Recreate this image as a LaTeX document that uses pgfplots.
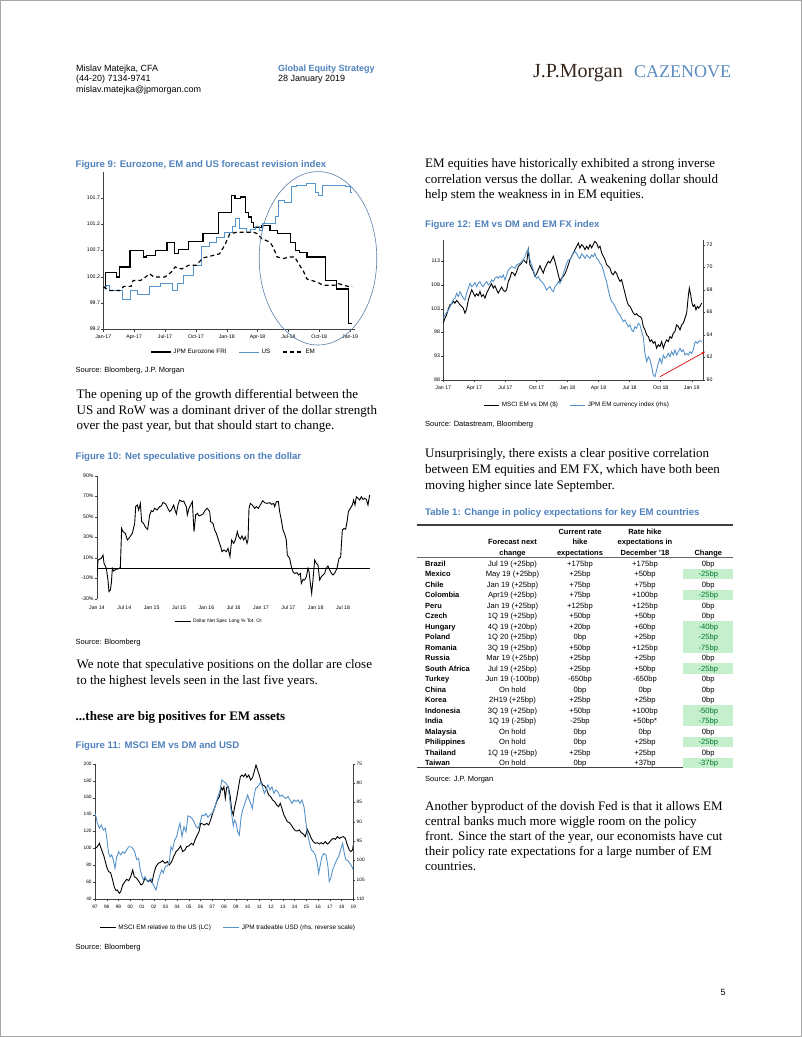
\documentclass[border=0pt]{standalone}
\usepackage{pgfplots}
\pgfplotsset{compat=1.18}
\usepackage{fontspec}
\setmainfont{Liberation Serif}
\setsansfont{Liberation Sans}
\usetikzlibrary{arrows.meta}
\definecolor{ttl}{RGB}{79,129,189}
\definecolor{ser}{RGB}{84,146,202}
\definecolor{gfill}{RGB}{198,239,206}
\definecolor{gtext}{RGB}{0,120,40}
\definecolor{logob}{RGB}{55,38,28}
\definecolor{logoc}{RGB}{90,140,190}
\definecolor{ell}{RGB}{90,125,165}
\newcommand\bodyf{\rmfamily\fontsize{13}{15.8}\selectfont}
\newcommand\ttlf{\sffamily\bfseries\fontsize{9.6}{11}\selectfont\color{ttl}}
\newcommand\srcf{\sffamily\fontsize{7.5}{9}\selectfont}
\newcommand\tabf{\sffamily\fontsize{7.6}{9}\selectfont}
\newcommand\tabb{\sffamily\bfseries\fontsize{7.5}{9}\selectfont}
\pgfplotsset{
 jpm/.style={scale only axis, axis line style={line width=0.5pt, black!75},
  tick style={line width=0.4pt, black!75}, major tick length=2pt, tick align=outside,
  tick label style={font=\sffamily\fontsize{5.2}{6}\selectfont, inner sep=1.2pt},
  typeset ticklabels with strut,
  legend style={draw=none, fill=none, legend columns=-1, font=\sffamily\fontsize{6.3}{7}\selectfont,
   anchor=center, /tikz/every even column/.append style={column sep=10pt}, inner sep=0pt},
  legend cell align=left},
}
\begin{document}
\begin{tikzpicture}[x=1pt,y=1pt]
\useasboundingbox (0,0) rectangle (802,-1037);
\draw[black!35, line width=0.8pt] (0.4,-0.4) rectangle (801.6,-1036.6);
% header
\node[anchor=base west, inner sep=0, font=\sffamily\fontsize{9}{11}\selectfont] at (76,-71) {Mislav Matejka, CFA};
\node[anchor=base west, inner sep=0, font=\sffamily\fontsize{9}{11}\selectfont] at (76,-81.7) {(44-20) 7134-9741};
\node[anchor=base west, inner sep=0, font=\sffamily\fontsize{9}{11}\selectfont] at (76,-92.4) {mislav.matejka@jpmorgan.com};
\node[anchor=base west, inner sep=0, font=\sffamily\bfseries\fontsize{9}{11}\selectfont, text=ttl] at (278,-71) {Global Equity Strategy};
\node[anchor=base west, inner sep=0, font=\sffamily\fontsize{9}{11}\selectfont] at (278,-81.7) {28 January 2019};
\node[anchor=base west, inner sep=0, font=\rmfamily\fontsize{20}{20}\selectfont, text=logob] at (533,-77) {J.P.Morgan};
\node[anchor=base west, inner sep=0, font=\rmfamily\fontsize{18}{18}\selectfont, text=logoc] at (634,-77) {CAZENOVE};
% left column texts
\node[anchor=base west, inner sep=0, font=\ttlf] at (75.5,-167) {Figure 9: Eurozone, EM and US forecast revision index};
\node[anchor=base west, inner sep=0, font=\srcf] at (75.5,-372) {Source: Bloomberg, J.P. Morgan};
\node[anchor=base west, inner sep=0, font=\bodyf] at (76.5,-398.3) {The opening up of the growth differential between the};
\node[anchor=base west, inner sep=0, font=\bodyf] at (76.5,-414.1) {US and RoW was a dominant driver of the dollar strength};
\node[anchor=base west, inner sep=0, font=\bodyf] at (76.5,-429.9) {over the past year, but that should start to change.};
\node[anchor=base west, inner sep=0, font=\ttlf] at (75.5,-459.5) {Figure 10: Net speculative positions on the dollar};
\node[anchor=base west, inner sep=0, font=\srcf] at (75.5,-644.5) {Source: Bloomberg};
\node[anchor=base west, inner sep=0, font=\bodyf] at (76.5,-668.3) {We note that speculative positions on the dollar are close};
\node[anchor=base west, inner sep=0, font=\bodyf] at (76.5,-684.1) {to the highest levels seen in the last five years.};
\node[anchor=base west, inner sep=0, font=\rmfamily\bfseries\fontsize{13}{15}\selectfont] at (75.5,-720) {...these are big positives for EM assets};
\node[anchor=base west, inner sep=0, font=\ttlf] at (75.5,-748.5) {Figure 11: MSCI EM vs DM and USD};
\node[anchor=base west, inner sep=0, font=\srcf] at (75.5,-949) {Source: Bloomberg};
% right column texts
\node[anchor=base west, inner sep=0, font=\bodyf] at (425,-167.3) {EM equities have historically exhibited a strong inverse};
\node[anchor=base west, inner sep=0, font=\bodyf] at (425,-183.1) {correlation versus the dollar. A weakening dollar should};
\node[anchor=base west, inner sep=0, font=\bodyf] at (425,-198.9) {help stem the weakness in in EM equities.};
\node[anchor=base west, inner sep=0, font=\ttlf] at (425,-227) {Figure 12: EM vs DM and EM FX index};
\node[anchor=base west, inner sep=0, font=\srcf] at (425,-426) {Source: Datastream, Bloomberg};
\node[anchor=base west, inner sep=0, font=\bodyf] at (425,-457.5) {Unsurprisingly, there exists a clear positive correlation};
\node[anchor=base west, inner sep=0, font=\bodyf] at (425,-473.3) {between EM equities and EM FX, which have both been};
\node[anchor=base west, inner sep=0, font=\bodyf] at (425,-489.1) {moving higher since late September.};
\node[anchor=base west, inner sep=0, font=\ttlf] at (425,-515) {Table 1: Change in policy expectations for key EM countries};
\node[anchor=base west, inner sep=0, font=\srcf] at (425,-781) {Source: J.P. Morgan};
\node[anchor=base west, inner sep=0, font=\bodyf] at (425,-810) {Another byproduct of the dovish Fed is that it allows EM};
\node[anchor=base west, inner sep=0, font=\bodyf] at (425,-825.2) {central banks much more wiggle room on the policy};
\node[anchor=base west, inner sep=0, font=\bodyf] at (425,-840.4) {front. Since the start of the year, our economists have cut};
\node[anchor=base west, inner sep=0, font=\bodyf] at (425,-855.6) {their policy rate expectations for a large number of EM};
\node[anchor=base west, inner sep=0, font=\bodyf] at (425,-870.8) {countries.};
\node[anchor=base, inner sep=0, font=\sffamily\fontsize{9}{11}\selectfont] at (723,-995.5) {5};
% table
\draw[black!75, line width=1.4pt] (416.7,-525) -- (733.3,-525);
\draw[black!60, line width=0.4pt] (416.7,-557.5) -- (733.3,-557.5);
\draw[black!75, line width=1.4pt] (416.7,-767.7) -- (733.3,-767.7);
\node[anchor=base, inner sep=0, font=\tabb] at (512.5,-544.4) {Forecast next};
\node[anchor=base, inner sep=0, font=\tabb] at (512.5,-555) {change};
\node[anchor=base, inner sep=0, font=\tabb] at (580,-534.4) {Current rate};
\node[anchor=base, inner sep=0, font=\tabb] at (580,-544.4) {hike};
\node[anchor=base, inner sep=0, font=\tabb] at (580,-555) {expectations};
\node[anchor=base, inner sep=0, font=\tabb] at (645,-534.4) {Rate hike};
\node[anchor=base, inner sep=0, font=\tabb] at (645,-544.4) {expectations in};
\node[anchor=base, inner sep=0, font=\tabb] at (645,-555) {December '18};
\node[anchor=base, inner sep=0, font=\tabb] at (708.3,-555) {Change};
\foreach [count=\i from 0] \c/\f/\cu/\de/\ch/\g in {Brazil/Jul 19 (+25bp)/+175bp/+175bp/0bp/0,
 Mexico/May 19 (+25bp)/+25bp/+50bp/-25bp/1,
 Chile/Jan 19 (+25bp)/+75bp/+75bp/0bp/0,
 Colombia/Apr19 (+25bp)/+75bp/+100bp/-25bp/1,
 Peru/Jan 19 (+25bp)/+125bp/+125bp/0bp/0,
 Czech/1Q 19 (+25bp)/+50bp/+50bp/0bp/0,
 Hungary/4Q 19 (+20bp)/+20bp/+60bp/-40bp/1,
 Poland/1Q 20 (+25bp)/0bp/+25bp/-25bp/1,
 Romania/3Q 19 (+25bp)/+50bp/+125bp/-75bp/1,
 Russia/Mar 19 (+25bp)/+25bp/+25bp/0bp/0,
 South Africa/Jul 19 (+25bp)/+25bp/+50bp/-25bp/1,
 Turkey/Jun 19 (-100bp)/-650bp/-650bp/0bp/0,
 China/On hold/0bp/0bp/0bp/0,
 Korea/2H19 (+25bp)/+25bp/+25bp/0bp/0,
 Indonesia/3Q 19 (+25bp)/+50bp/+100bp/-50bp/1,
 India/1Q 19 (-25bp)/-25bp/+50bp*/-75bp/1,
 Malaysia/On hold/0bp/0bp/0bp/0,
 Philippines/On hold/0bp/+25bp/-25bp/1,
 Thailand/1Q 19 (+25bp)/+25bp/+25bp/0bp/0,
 Taiwan/On hold/0bp/+37bp/-37bp/1}
{
 \pgfmathsetmacro\yc{-(563.3+10.5*\i)}
 \ifnum\g=1
  \fill[gfill] (683.3,\yc+5.2) rectangle (733.3,\yc-5.2);
  \node[anchor=base, inner sep=0, font=\tabf, text=gtext] at (708.3,\yc-2.7) {\ch};
 \else
  \node[anchor=base, inner sep=0, font=\tabf] at (708.3,\yc-2.7) {\ch};
 \fi
 \node[anchor=base west, inner sep=0, font=\tabb] at (425,\yc-2.7) {\c};
 \node[anchor=base, inner sep=0, font=\tabf] at (512.5,\yc-2.7) {\f};
 \node[anchor=base, inner sep=0, font=\tabf] at (580,\yc-2.7) {\cu};
 \node[anchor=base, inner sep=0, font=\tabf] at (645,\yc-2.7) {\de};
}
% ---------------- Figure 9
\begin{axis}[jpm, at={(103.3pt,-329.5pt)}, anchor=south west, width=252pt, height=157.8pt,
 xmin=0, xmax=24.5, ymin=99.2, ymax=102.2, axis x line*=bottom, axis y line*=left,
 xticklabel style={yshift=-1.5pt},
 xtick={0,3,...,24}, xticklabels={Jan-17,Apr-17,Jul-17,Oct-17,Jan-18,Apr-18,Jul-18,Oct-18,Jan-19},
 ytick={99.2,99.7,100.2,100.7,101.2,101.7}, yticklabels={99.2,99.7,100.2,100.7,101.2,101.7},
 legend style={at={(axis description cs:0.517,-0.143)}},
 legend image code/.code={\draw[#1] (0pt,0pt) -- (20pt,0pt);}]
\addplot[black, line width=1.2pt, const plot] coordinates {(0,100.01) (0.2,100.28) (1.3,100.2) (1.55,100.39) (2.6,100.70) (3.9,100.58) (4.2,100.61) (5.1,100.70) (6.2,100.86) (6.95,100.64) (7.3,100.72) (8.27,100.88) (9.7,101.02) (11.2,101.43) (12.5,101.75) (12.8,101.69) (13.3,101.72) (13.8,101.43) (14.1,101.34) (14.4,101.24) (14.6,101.14) (15.4,101.18) (16.2,101.08) (16.9,101.02) (18.2,100.86) (18.65,100.70) (19.1,100.67) (19.8,100.58) (21.6,100.13) (22.7,99.97) (23.85,99.31) (24.2,99.31)};
\addlegendentry{JPM Eurozone FRI}
\addplot[ser, line width=1.0pt, const plot] coordinates {(0,100.01) (0.3,100.04) (0.65,99.94) (1.9,99.78) (2.6,99.94) (3.3,99.87) (4.5,100.01) (5.6,100.07) (6.7,99.94) (7.2,100.07) (7.8,100.23) (8.8,100.42) (9.5,100.77) (10.3,100.86) (11.0,100.94) (11.8,101.05) (12.6,101.15) (12.9,101.31) (13.2,101.12) (13.9,101.05) (14.3,101.10) (14.8,101.15) (15.2,101.08) (15.5,101.22) (16.7,101.34) (17.0,101.66) (17.6,101.62) (18.3,101.91) (18.8,101.94) (19.8,101.97) (20.6,101.81) (20.9,101.75) (21.3,101.94) (23.5,101.91) (24.0,101.81) (24.2,101.81)};
\addlegendentry{US}
\addplot[black, line width=1.2pt, dash pattern=on 4pt off 3pt] coordinates {(0,100.01) (0.6,99.94) (1.6,99.94) (2.0,100.02) (2.7,100.02) (2.9,100.13) (3.6,100.13) (4.0,100.18) (4.5,100.26) (4.9,100.2) (6.0,100.2) (6.6,100.29) (7.0,100.39) (7.6,100.35) (8.3,100.42) (9.0,100.42) (9.7,100.56) (10.7,100.61) (11.3,100.64) (11.8,100.8) (12.3,101.02) (13.0,101.05) (14.6,101.05) (15.0,101.02) (15.4,100.93) (16.2,100.86) (16.5,100.77) (16.9,100.58) (17.5,100.55) (18.2,100.58) (18.6,100.58) (19.0,100.45) (19.5,100.29) (19.8,100.16) (20.8,100.10) (21.4,100.04) (22.5,100.04) (22.9,100.07) (23.4,100.04) (24.0,100.01) (24.2,100.01)};
\addlegendentry{EM}
\end{axis}
\draw[ell, line width=0.6pt] (318,-258.3) ellipse [x radius=58.8, y radius=86.7];
% ---------------- Figure 10
\begin{axis}[jpm, at={(97pt,-599pt)}, anchor=south west, width=273.4pt, height=123pt,
 xmin=0, xmax=60, ymin=-30, ymax=90, axis x line*=bottom, axis y line*=left,
 x axis line style={draw=none}, xtick style={draw=none}, xticklabel style={yshift=-3pt},
 xtick={0,6,...,54}, xticklabels={Jan 14,Jul 14,Jan 15,Jul 15,Jan 16,Jul 16,Jan 17,Jul 17,Jan 18,Jul 18},
 ytick={-30,-10,10,30,50,70,90}, yticklabels={-30\%,-10\%,10\%,30\%,50\%,70\%,90\%},
 legend style={at={(axis description cs:0.446,-0.185)}, font=\sffamily\fontsize{4.9}{6}\selectfont},
 legend image code/.code={\draw[#1] (0pt,0pt) -- (16pt,0pt);}]
\addplot[black, line width=0.5pt, forget plot] coordinates {(0,0) (60,0)};
\addplot[black, line width=0.9pt] coordinates {(0,-8.2) (0.22,8.05) (0.95,9.7) (1.32,12.9) (1.54,4.8) (2.05,0) (2.41,-11.5) (2.63,-22.8) (2.93,-21.2) (3.15,-14.7) (3.37,0) (3.66,-2.7) (4.10,-1.1) (4.61,-0.7) (5.12,0.6) (5.41,38.9) (5.71,35.7) (6.22,34.1) (6.66,27.6) (7.17,30.2) (7.75,34.1) (8.27,43.8) (8.49,60.1) (8.85,61.7) (9.14,56.8) (9.51,63.3) (9.80,45.4) (10.10,44.5) (10.68,39.9) (11.12,38.0) (11.56,52.0) (11.92,56.2) (12.29,55.2) (12.66,58.5) (13.17,56.8) (13.75,60.1) (14.12,60.7) (14.48,64.3) (15.07,62.7) (15.36,60.1) (15.94,55.2) (16.31,56.8) (16.83,61.7) (17.12,56.8) (17.41,52.9) (17.78,61.7) (18.14,66.6) (18.65,65.0) (19.02,65.6) (19.60,60.1) (19.82,52.0) (20.19,58.5) (20.56,61.7) (20.92,65.0) (21.29,35.7) (21.65,52.0) (22.02,53.6) (22.38,51.0) (22.90,52.0) (23.26,52.9) (23.77,56.8) (24.21,58.5) (24.73,55.2) (24.95,45.4) (25.46,43.8) (25.82,37.3) (26.19,34.1) (26.77,25.9) (27.14,21.1) (27.43,16.2) (27.87,17.8) (28.38,16.2) (28.75,19.4) (29.19,11.3) (29.55,27.6) (29.99,24.3) (30.36,27.6) (30.80,35.7) (31.09,30.8) (31.46,28.5) (31.82,31.5) (32.19,27.6) (32.55,30.8) (32.92,24.3) (33.14,27.6) (33.36,58.5) (33.65,63.3) (34.09,61.7) (34.60,58.5) (34.97,60.1) (35.41,58.5) (35.85,61.7) (36.36,65.9) (36.80,64.0) (37.31,63.3) (37.89,64.0) (38.33,62.4) (38.77,63.3) (38.99,60.1) (39.36,65.0) (39.80,65.0) (40.09,55.2) (40.45,47.1) (40.82,37.3) (41.26,32.4) (41.55,27.6) (41.77,12.9) (42.28,9.7) (42.65,1.5) (43.01,-3.3) (43.38,-5.0) (43.89,-4.3) (44.26,-6.6) (44.62,-5.0) (44.84,-14.7) (45.21,-10.8) (45.57,-11.5) (45.94,-8.2) (46.31,0) (46.53,-3.3) (46.82,-14.7) (47.11,-24.5) (47.40,-11.5) (47.77,8.05) (48.13,4.8) (48.50,3.2) (48.87,-11.5) (49.23,-8.2) (49.60,-6.6) (49.96,-5.0) (50.33,0) (50.69,2.2) (51.06,-1.7) (51.43,-5.0) (51.79,-6.6) (52.23,-4.3) (52.67,0) (53.11,9.7) (53.47,10.7) (53.84,37.3) (54.21,38.9) (54.57,38.0) (54.94,47.1) (55.16,55.2) (55.60,58.5) (56.03,61.7) (56.33,66.6) (56.62,61.7) (56.91,69.8) (57.28,68.2) (57.64,66.6) (58.01,69.8) (58.38,67.2) (58.74,68.2) (59.11,67.2) (59.47,61.7) (59.84,71.5)};
\addlegendentry{Dollar Net Spec Long \% Tot. OI}
\end{axis}
% ---------------- Figure 11
\begin{axis}[jpm, at={(95pt,-899.3pt)}, anchor=south west, width=258.3pt, height=135.3pt,
 xmin=0, xmax=22, ymin=40, ymax=200, axis x line*=bottom, axis y line*=left,
 tick label style={font=\sffamily\fontsize{4.8}{5.5}\selectfont}, xticklabel style={yshift=-1.5pt},
 xtick={0,...,22}, xticklabels={97,98,99,00,01,02,03,04,05,06,07,08,09,10,11,12,13,14,15,16,17,18,19},
 ytick={40,60,...,200}, yticklabels={40,60,80,100,120,140,160,180,200}]
\addplot[black, line width=0.9pt] coordinates {(0,100.3) (0.20,102.3) (0.37,106.2) (0.57,98.3) (0.77,90.5) (0.99,78.6) (1.16,72.7) (1.33,71.6) (1.50,62.9) (1.65,54.2) (1.79,50.3) (1.90,51.1) (2.07,47.1) (2.19,49.1) (2.36,57.0) (2.55,60.9) (2.70,63.7) (2.87,62.1) (3.04,66.8) (3.21,74.7) (3.35,66.8) (3.55,64.9) (3.75,60.9) (3.92,57.0) (4.06,58.2) (4.26,64.9) (4.40,62.9) (4.54,60.9) (4.68,62.9) (4.85,59.7) (5.02,70.8) (5.19,78.6) (5.39,82.6) (5.59,83.8) (5.76,85.7) (5.96,82.6) (6.16,84.6) (6.33,80.6) (6.53,84.6) (6.70,90.5) (6.90,96.4) (7.10,99.1) (7.29,103.1) (7.47,96.4) (7.66,98.3) (7.81,102.3) (8.00,103.1) (8.20,106.2) (8.37,104.3) (8.52,110.2) (8.71,116.1) (8.86,120.0) (9.00,129.9) (9.17,129.1) (9.34,127.9) (9.51,129.9) (9.68,127.9) (9.85,133.8) (10.02,141.7) (10.22,149.6) (10.42,157.4) (10.59,161.4) (10.76,172.0) (10.87,169.3) (10.98,173.2) (11.10,159.4) (11.21,172.0) (11.35,173.2) (11.50,163.4) (11.64,145.6) (11.78,139.7) (11.89,148.8) (12.06,159.4) (12.23,173.2) (12.38,185.0) (12.52,187.0) (12.66,185.0) (12.80,188.2) (12.94,184.2) (13.09,187.0) (13.26,181.1) (13.43,184.2) (13.60,192.9) (13.71,198.8) (13.85,192.9) (13.99,187.0) (14.14,179.1) (14.28,175.2) (14.45,174.0) (14.62,170.1) (14.79,163.4) (14.96,161.4) (15.13,157.4) (15.30,155.5) (15.47,151.5) (15.64,149.6) (15.78,153.5) (15.92,147.6) (16.09,139.7) (16.24,135.8) (16.38,131.8) (16.55,130.7) (16.72,127.9) (16.89,124.0) (17.06,121.2) (17.23,120.8) (17.40,122.0) (17.57,118.8) (17.74,117.3) (17.91,114.1) (18.08,122.8) (18.25,118.0) (18.42,112.1) (18.59,108.2) (18.76,106.2) (18.93,107.0) (19.10,105.4) (19.27,107.0) (19.44,105.4) (19.61,108.2) (19.78,105.4) (19.95,107.0) (20.12,110.2) (20.29,112.1) (20.47,110.9) (20.64,114.1) (20.81,112.1) (20.98,113.3) (21.15,114.1) (21.32,112.1) (21.49,104.3) (21.66,98.3) (21.80,96.4) (21.94,98.3) (22.0,104.3)};
\end{axis}
\begin{axis}[jpm, at={(95pt,-899.3pt)}, anchor=south west, width=258.3pt, height=135.3pt,
 xmin=0, xmax=22, ymin=75, ymax=110, y dir=reverse, axis x line=none, axis y line*=right,
 tick label style={font=\sffamily\fontsize{4.8}{5.5}\selectfont},
 ytick={75,80,...,110}, yticklabels={75,80,85,90,95,100,105,110},
 legend style={at={(axis description cs:0.516,-0.21)}, font=\sffamily\fontsize{6.4}{7}\selectfont},
 legend image code/.code={\draw[#1] (0pt,0pt) -- (16pt,0pt);}]
\addlegendimage{black, line width=0.9pt}
\addlegendentry{MSCI EM relative to the US (LC)}
\addplot[ser, line width=0.9pt] coordinates {(0,87.8) (0.09,88.6) (0.20,90.3) (0.37,91.6) (0.54,90.8) (0.71,92.1) (0.88,91.6) (0.99,93.8) (1.16,98.1) (1.28,99.0) (1.42,98.5) (1.56,99.8) (1.70,102.0) (1.85,99.0) (2.02,97.7) (2.19,98.5) (2.36,97.7) (2.53,98.1) (2.70,97.2) (2.87,96.4) (3.04,96.4) (3.21,96.8) (3.38,97.7) (3.55,99.7) (3.72,99.4) (3.83,102.0) (3.97,103.7) (4.12,105.0) (4.26,104.1) (4.46,105.4) (4.63,105.0) (4.77,104.6) (4.91,105.9) (5.05,106.7) (5.19,107.6) (5.36,105.4) (5.53,103.7) (5.68,102.4) (5.82,103.2) (5.99,101.5) (6.16,101.4) (6.33,100.3) (6.47,96.4) (6.61,97.2) (6.78,94.7) (6.95,93.8) (7.12,91.6) (7.24,90.3) (7.41,93.8) (7.58,91.2) (7.75,92.5) (7.92,88.4) (8.09,88.6) (8.26,89.1) (8.43,89.9) (8.60,91.2) (8.77,91.6) (8.94,90.3) (9.11,88.2) (9.28,88.4) (9.45,87.8) (9.62,88.8) (9.79,88.2) (9.96,87.8) (10.13,86.9) (10.30,85.2) (10.47,83.4) (10.64,81.9) (10.81,79.1) (10.98,79.6) (11.16,80.0) (11.33,80.9) (11.44,83.4) (11.55,86.0) (11.67,88.6) (11.78,91.0) (11.89,89.5) (12.01,90.2) (12.15,92.5) (12.29,93.4) (12.43,89.1) (12.57,86.9) (12.72,85.6) (12.86,84.3) (13.00,83.0) (13.14,84.3) (13.26,85.2) (13.40,86.5) (13.54,83.4) (13.68,81.3) (13.82,81.0) (13.97,80.4) (14.11,79.6) (14.28,81.0) (14.42,82.6) (14.56,81.7) (14.73,80.4) (14.90,81.7) (15.07,80.9) (15.24,82.6) (15.41,81.7) (15.58,82.2) (15.75,83.4) (15.92,83.0) (16.09,83.6) (16.26,83.9) (16.44,83.4) (16.61,84.3) (16.78,85.2) (16.95,84.3) (17.12,84.7) (17.29,84.3) (17.46,85.2) (17.63,84.3) (17.80,86.0) (17.94,89.5) (18.08,92.9) (18.25,95.1) (18.42,97.2) (18.59,97.7) (18.76,98.5) (18.93,100.7) (19.05,103.3) (19.16,101.5) (19.33,99.0) (19.50,98.1) (19.67,98.5) (19.84,101.5) (19.95,105.4) (20.07,104.6) (20.24,102.4) (20.41,101.1) (20.58,99.8) (20.75,99.0) (20.92,97.2) (21.09,95.5) (21.23,98.1) (21.37,99.8) (21.54,100.0) (21.71,100.7) (21.88,101.5) (22.00,102.4)};
\addlegendentry{JPM tradeable USD (rhs, reverse scale)}
\end{axis}
% ---------------- Figure 12
\begin{axis}[jpm, at={(443.3pt,-380pt)}, anchor=south west, width=260pt, height=140pt,
 xmin=0, xmax=25.12, ymin=88, ymax=117.5, axis x line*=bottom, axis y line*=left,
 xticklabel style={yshift=-2pt},
 xtick={0,3,...,24}, xticklabels={Jan 17,Apr 17,Jul 17,Oct 17,Jan 18,Apr 18,Jul 18,Oct 18,Jan 19},
 ytick={88,93,...,113}, yticklabels={88,93,98,103,108,113}]
\addplot[black, line width=0.9pt] coordinates {(0,99.98) (0.16,101.03) (0.32,101.74) (0.48,102.93) (0.64,103.85) (0.81,104.06) (0.97,104.55) (1.13,104.20) (1.29,104.76) (1.45,104.34) (1.61,103.85) (1.77,103.50) (1.93,103.14) (2.09,102.09) (2.25,102.93) (2.42,104.90) (2.58,105.96) (2.74,107.02) (2.90,106.31) (3.06,105.61) (3.22,106.17) (3.38,105.75) (3.54,106.66) (3.70,105.61) (3.86,105.96) (4.03,105.26) (4.19,106.31) (4.35,107.02) (4.51,107.72) (4.67,108.28) (4.83,107.37) (4.99,107.86) (5.15,107.02) (5.31,106.31) (5.48,107.02) (5.64,107.58) (5.80,106.88) (5.96,106.66) (6.12,107.02) (6.28,108.78) (6.44,109.48) (6.60,110.68) (6.76,110.54) (6.92,109.97) (7.09,110.89) (7.25,111.94) (7.41,112.30) (7.57,112.65) (7.73,113.35) (7.89,113.00) (8.05,112.65) (8.21,115.46) (8.37,112.30) (8.53,111.59) (8.70,110.89) (8.86,109.83) (9.02,110.40) (9.18,111.24) (9.34,112.08) (9.50,111.24) (9.66,110.54) (9.82,111.59) (9.98,112.30) (10.14,113.00) (10.31,112.65) (10.47,113.35) (10.63,114.06) (10.79,113.00) (10.95,111.59) (11.11,110.18) (11.27,108.78) (11.43,109.48) (11.59,109.83) (11.76,110.40) (11.92,111.24) (12.08,112.30) (12.24,113.35) (12.40,114.06) (12.56,114.76) (12.72,115.46) (12.88,116.17) (13.04,116.87) (13.20,115.82) (13.37,116.52) (13.53,116.17) (13.69,115.46) (13.85,116.17) (14.01,115.60) (14.17,116.52) (14.33,115.82) (14.49,116.52) (14.65,117.22) (14.81,116.87) (14.98,115.82) (15.14,116.17) (15.30,114.76) (15.46,114.06) (15.62,113.35) (15.78,112.30) (15.94,111.94) (16.10,111.59) (16.26,110.54) (16.43,110.18) (16.59,110.89) (16.75,110.40) (16.91,109.48) (17.07,108.78) (17.23,109.13) (17.39,107.72) (17.55,106.31) (17.71,104.90) (17.87,103.85) (18.04,103.50) (18.20,102.79) (18.36,102.09) (18.52,101.74) (18.68,101.95) (18.84,101.52) (19.00,101.38) (19.16,101.03) (19.32,99.27) (19.48,98.57) (19.65,97.51) (19.81,97.16) (19.97,96.10) (20.13,96.46) (20.29,95.75) (20.45,96.10) (20.61,94.70) (20.77,95.40) (20.93,95.05) (21.10,96.10) (21.26,94.70) (21.42,95.75) (21.58,96.46) (21.74,96.10) (21.90,97.16) (22.06,96.81) (22.22,97.86) (22.38,98.22) (22.54,99.62) (22.71,99.27) (22.87,98.57) (23.03,99.62) (23.19,99.98) (23.35,101.03) (23.51,102.09) (23.67,105.61) (23.77,107.37) (23.90,105.96) (24.03,104.20) (24.15,103.50) (24.28,103.85) (24.41,102.79) (24.54,103.50) (24.67,103.14) (24.80,103.50) (24.96,104.20)};
\end{axis}
\begin{axis}[jpm, at={(443.3pt,-380pt)}, anchor=south west, width=260pt, height=140pt,
 xmin=0, xmax=25.12, ymin=60, ymax=72.44, axis x line=none, axis y line*=right,
 ytick={60,62,...,72}, yticklabels={60,62,64,66,68,70,72},
 legend style={at={(axis description cs:0.516,-0.179)}},
 legend image code/.code={\draw[#1] (0pt,0pt) -- (15pt,0pt);}]
\addlegendimage{black, line width=0.9pt}
\addlegendentry{MSCI EM vs DM (\$)}
\addplot[ser, line width=0.9pt] coordinates {(0,65.48) (0.16,65.78) (0.32,65.99) (0.48,66.16) (0.64,66.52) (0.81,66.81) (0.97,67.17) (1.13,67.26) (1.29,67.70) (1.45,67.41) (1.61,67.85) (1.77,67.56) (1.93,67.26) (2.09,67.11) (2.25,67.70) (2.42,68.15) (2.58,68.59) (2.74,68.30) (2.90,68.44) (3.06,68.65) (3.22,68.30) (3.38,68.59) (3.54,68.74) (3.70,68.44) (3.86,68.30) (4.03,68.59) (4.19,68.74) (4.35,68.44) (4.51,68.59) (4.67,68.89) (4.83,68.74) (4.99,69.04) (5.15,69.19) (5.31,69.04) (5.48,69.24) (5.64,69.10) (5.80,69.33) (5.96,68.89) (6.12,69.33) (6.28,69.78) (6.44,69.93) (6.60,70.07) (6.76,70.01) (6.92,69.93) (7.09,70.22) (7.25,70.31) (7.41,70.37) (7.57,70.52) (7.73,70.67) (7.89,70.96) (8.05,71.41) (8.21,71.61) (8.37,70.67) (8.53,70.22) (8.70,69.78) (8.86,69.24) (9.02,69.04) (9.18,69.19) (9.34,68.89) (9.50,68.74) (9.66,68.59) (9.82,68.30) (9.98,68.00) (10.14,68.15) (10.31,68.30) (10.47,68.00) (10.63,67.85) (10.79,68.30) (10.95,68.44) (11.11,68.74) (11.27,68.59) (11.43,68.89) (11.59,69.48) (11.76,69.93) (11.92,70.37) (12.08,70.67) (12.24,70.67) (12.40,70.96) (12.56,71.26) (12.72,71.41) (12.88,71.26) (13.04,70.96) (13.20,70.81) (13.37,71.20) (13.53,71.02) (13.69,70.81) (13.85,71.11) (14.01,70.96) (14.17,70.81) (14.33,71.11) (14.49,70.96) (14.65,71.26) (14.81,70.81) (14.98,70.67) (15.14,70.37) (15.30,70.22) (15.46,69.78) (15.62,69.19) (15.78,68.74) (15.94,68.00) (16.10,67.41) (16.26,66.96) (16.43,66.81) (16.59,66.52) (16.75,66.22) (16.91,65.93) (17.07,65.78) (17.23,65.48) (17.39,65.19) (17.55,65.33) (17.71,65.04) (17.87,64.74) (18.04,64.89) (18.20,64.44) (18.36,64.30) (18.52,64.74) (18.68,64.59) (18.84,65.04) (19.00,64.89) (19.16,64.30) (19.32,63.85) (19.48,62.37) (19.65,61.63) (19.81,62.07) (19.97,61.78) (20.13,61.18) (20.29,60.44) (20.45,60.30) (20.61,60.89) (20.77,61.48) (20.93,61.93) (21.10,61.48) (21.26,62.22) (21.42,61.93) (21.58,62.07) (21.74,62.37) (21.90,62.07) (22.06,62.52) (22.22,62.22) (22.38,62.67) (22.54,62.22) (22.71,62.52) (22.87,62.81) (23.03,62.52) (23.19,62.67) (23.35,62.22) (23.51,62.37) (23.67,62.22) (23.83,62.52) (23.99,62.37) (24.15,62.67) (24.28,63.26) (24.41,63.41) (24.54,63.26) (24.67,63.41) (24.80,63.50) (24.96,63.41)};
\addlegendentry{JPM EM currency index (rhs)}
\end{axis}
\draw[red!85!black, line width=0.7pt, -{Stealth[length=3.5pt, width=3pt]}] (660,-376.7) -- (705,-351.7);
\end{tikzpicture}
\end{document}
